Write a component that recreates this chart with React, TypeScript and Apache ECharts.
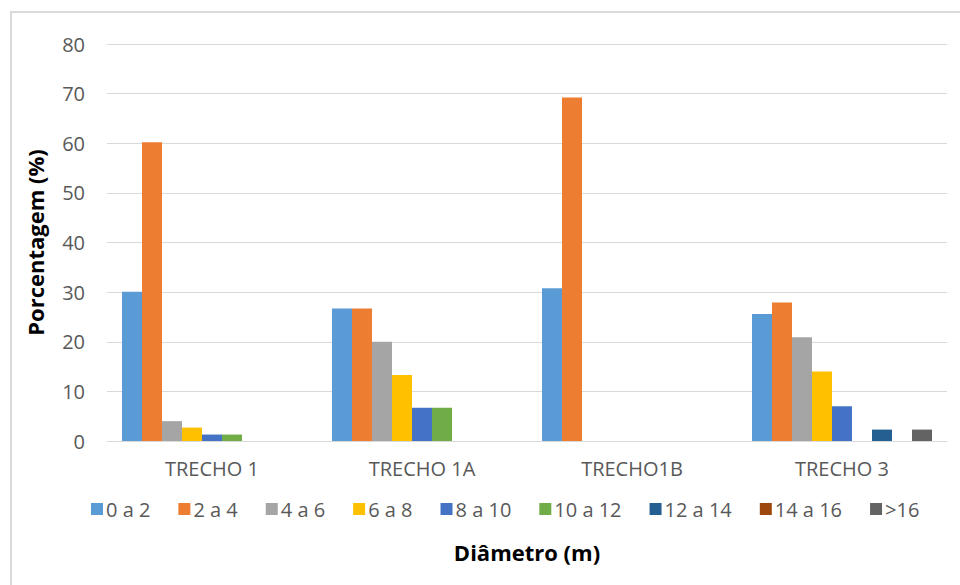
import React, { useEffect, useRef } from "react";
import * as echarts from "echarts";

// Stretches of the survey
const trechos = ["TRECHO 1", "TRECHO 1A", "TRECHO1B", "TRECHO 3"];

// Diameter classes (m)
const classes = ["0 a 2", "2 a 4", "4 a 6", "6 a 8", "8 a 10", "10 a 12", "12 a 14", "14 a 16", ">16"];

// Percentage of individuals per class, one array per class, ordered by stretch
const c0a2 = [30.1, 26.7, 30.8, 25.6];
const c2a4 = [60.2, 26.7, 69.2, 27.9];
const c4a6 = [4.0, 20.0, 0, 20.9];
const c6a8 = [2.7, 13.3, 0, 14.0];
const c8a10 = [1.3, 6.7, 0, 7.0];
const c10a12 = [1.3, 6.7, 0, 0];
const c12a14 = [0, 0, 0, 2.3];
const c14a16 = [0, 0, 0, 0];
const cMaior16 = [0, 0, 0, 2.3];

const seriesValues = [c0a2, c2a4, c4a6, c6a8, c8a10, c10a12, c12a14, c14a16, cMaior16];

const yTicks = { min: 0, max: 80, interval: 10 };

const palette = ["#5B9BD5", "#ED7D31", "#A5A5A5", "#FFC000", "#4472C4", "#70AD47", "#255E91", "#9E480E", "#636363"];

const FONT = "'Open Sans', 'Noto Sans', sans-serif";

export default function App() {
  const ref = useRef<HTMLDivElement>(null);

  useEffect(() => {
    document.body.style.margin = "0";
    const chart = echarts.init(ref.current!, null, { renderer: "svg" });
    chart.setOption({
      animation: false,
      backgroundColor: "#ffffff",
      color: palette,
      textStyle: { fontFamily: FONT },
      grid: { left: 107, right: 13, top: 44, bottom: 144 },
      graphic: [
        {
          type: "rect",
          shape: { x: 11, y: 12, width: 970, height: 600 },
          style: { fill: "none", stroke: "#d9d9d9", lineWidth: 2 },
          silent: true,
        },
      ],
      legend: {
        left: 86,
        top: 494,
        itemWidth: 12,
        itemHeight: 12,
        itemGap: 28,
        icon: "rect",
        textStyle: { fontFamily: FONT, fontSize: 20, color: "#595959", padding: [0, 0, 0, -2] },
        data: classes,
      },
      xAxis: {
        type: "category",
        data: trechos,
        name: "Diâmetro (m)",
        nameLocation: "middle",
        nameGap: 100,
        nameTextStyle: { fontFamily: FONT, fontSize: 22, fontWeight: "bold", color: "#000000" },
        axisLine: { lineStyle: { color: "#d9d9d9", width: 1 } },
        axisTick: { show: false },
        axisLabel: { fontFamily: FONT, fontSize: 20, color: "#595959", margin: 17 },
      },
      yAxis: {
        type: "value",
        min: yTicks.min,
        max: yTicks.max,
        interval: yTicks.interval,
        name: "Porcentagem (%)",
        nameLocation: "middle",
        nameGap: 61,
        nameTextStyle: { fontFamily: FONT, fontSize: 22, fontWeight: "bold", color: "#000000" },
        axisLine: { show: false },
        axisTick: { show: false },
        axisLabel: { fontFamily: FONT, fontSize: 20, color: "#595959", margin: 22 },
        splitLine: { lineStyle: { color: "#d9d9d9", width: 1 } },
      },
      series: classes.map((name, i) => ({
        name,
        type: "bar",
        data: seriesValues[i],
        barWidth: 20,
        barGap: "0%",
        itemStyle: { color: palette[i] },
      })),
    });
    return () => chart.dispose();
  }, []);

  return <div ref={ref} style={{ width: 960, height: 585 }} />;
}
